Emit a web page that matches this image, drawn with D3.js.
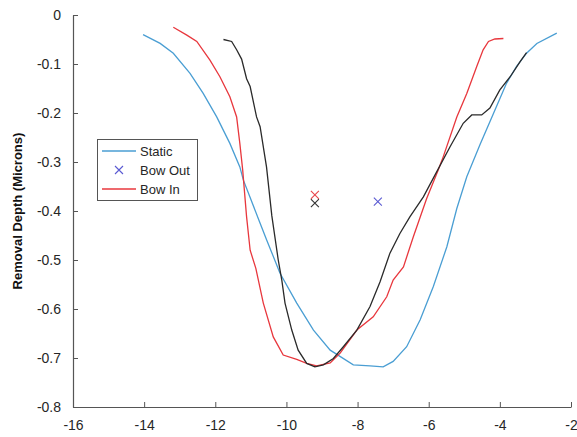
<!DOCTYPE html>
<html><head><meta charset="utf-8">
<script src="https://cdn.jsdelivr.net/npm/d3@7"></script>
<style>
body{margin:0;background:#fff;}
text{font-family:"Liberation Sans",Arial,Helvetica,sans-serif;}
</style></head>
<body><svg id="c" width="577" height="437"></svg>
<script>
const staticX=[-14.03,-13.55,-13.18,-12.71,-12.34,-11.96,-11.59,-11.31,-11.21,-10.74,-10.55,-10.18,-9.71,-9.24,-8.77,-8.12,-7.65,-7.28,-7.00,-6.62,-6.24,-5.87,-5.49,-5.21,-4.93,-4.56,-4.18,-3.81,-3.53,-3.25,-2.96,-2.40];
const staticY=[-0.040,-0.058,-0.078,-0.119,-0.160,-0.208,-0.262,-0.310,-0.337,-0.425,-0.460,-0.527,-0.588,-0.643,-0.684,-0.714,-0.716,-0.718,-0.707,-0.677,-0.622,-0.554,-0.473,-0.395,-0.330,-0.265,-0.201,-0.139,-0.105,-0.078,-0.058,-0.037];
const bowInX=[-13.18,-12.80,-12.52,-12.15,-11.87,-11.59,-11.40,-11.31,-11.23,-11.12,-11.02,-10.86,-10.65,-10.37,-10.09,-9.71,-9.43,-9.15,-8.77,-8.49,-8.02,-7.56,-7.18,-7.00,-6.71,-6.43,-6.06,-5.73,-5.59,-5.21,-4.93,-4.65,-4.47,-4.32,-4.14,-3.90];
const bowInY=[-0.025,-0.041,-0.054,-0.092,-0.126,-0.167,-0.208,-0.262,-0.316,-0.412,-0.480,-0.517,-0.588,-0.657,-0.694,-0.703,-0.711,-0.716,-0.710,-0.690,-0.643,-0.616,-0.575,-0.541,-0.514,-0.452,-0.375,-0.316,-0.289,-0.208,-0.160,-0.105,-0.071,-0.054,-0.049,-0.048];
const blackX=[-11.77,-11.54,-11.40,-11.26,-11.12,-11.02,-10.84,-10.74,-10.56,-10.41,-10.23,-10.13,-10.04,-9.85,-9.67,-9.43,-9.20,-8.96,-8.68,-8.40,-8.02,-7.65,-7.37,-7.09,-6.81,-6.53,-6.15,-5.87,-5.40,-5.03,-4.79,-4.51,-4.28,-4.00,-3.71,-3.43,-3.25];
const blackY=[-0.050,-0.054,-0.071,-0.090,-0.130,-0.146,-0.208,-0.228,-0.310,-0.410,-0.500,-0.541,-0.588,-0.643,-0.684,-0.711,-0.718,-0.714,-0.701,-0.677,-0.643,-0.595,-0.545,-0.486,-0.446,-0.412,-0.371,-0.333,-0.269,-0.221,-0.204,-0.204,-0.190,-0.153,-0.126,-0.095,-0.077];
const markerX=[-7.43,-9.20,-9.20];
const markerY=[-0.381,-0.367,-0.384];
const markerColors=["#5a5ad2","#e8474c","#333333"];
const xTicks=[-16,-14,-12,-10,-8,-6,-4,-2];
const yTicks=[0,-0.1,-0.2,-0.3,-0.4,-0.5,-0.6,-0.7,-0.8];
const legendLabels=["Static","Bow Out","Bow In"];

const svg=d3.select("#c");
const x=d3.scaleLinear().domain([-16,-2]).range([73,571]);
const y=d3.scaleLinear().domain([0,-0.8]).range([15,407]);
const axisCol="#555";
const txtCol="#262626";

const fmtY=d=>d===0?"0":d3.format(".1f")(d).replace("−","-");
const gx=svg.append("g").attr("transform","translate(0,407)")
  .call(d3.axisBottom(x).tickValues(xTicks).tickSizeInner(-5).tickSizeOuter(0).tickPadding(13).tickFormat(d=>String(d)));
const gy=svg.append("g").attr("transform","translate(73,0)")
  .call(d3.axisLeft(y).tickValues(yTicks).tickSizeInner(-5).tickSizeOuter(0).tickPadding(12).tickFormat(fmtY));
[gx,gy].forEach(g=>{
  g.select(".domain").attr("stroke",axisCol).attr("stroke-width",1.2);
  g.selectAll(".tick line").attr("stroke",axisCol);
  g.selectAll("text").attr("fill",txtCol).style("font-size","14px").style("font-family","'Liberation Sans',Arial,sans-serif");
});

svg.append("text").attr("transform","translate(22,211) rotate(-90)")
  .attr("text-anchor","middle").attr("font-weight","bold").attr("font-size","13px").attr("fill","#111")
  .text("Removal Depth (Microns)");

const line=d3.line().x(d=>x(d[0])).y(d=>y(d[1]));
const mk=(X,Y)=>X.map((v,i)=>[v,Y[i]]);
svg.append("path").datum(mk(staticX,staticY)).attr("d",line).attr("fill","none").attr("stroke","#4a9ed3").attr("stroke-width",1.3);
svg.append("path").datum(mk(bowInX,bowInY)).attr("d",line).attr("fill","none").attr("stroke","#e8373d").attr("stroke-width",1.3);
svg.append("path").datum(mk(blackX,blackY)).attr("d",line).attr("fill","none").attr("stroke","#2a2a2a").attr("stroke-width",1.3);

const cross=(g,cx,cy,s,col)=>{
  g.append("path").attr("d",`M${cx-s},${cy-s}L${cx+s},${cy+s}M${cx-s},${cy+s}L${cx+s},${cy-s}`)
   .attr("stroke",col).attr("stroke-width",1.1).attr("fill","none");
};
markerX.forEach((v,i)=>cross(svg,x(v),y(markerY[i]),4,markerColors[i]));

// legend
const lg=svg.append("g");
lg.append("rect").attr("x",97.5).attr("y",139.5).attr("width",100).attr("height",61)
  .attr("fill","#fff").attr("stroke","#555").attr("stroke-width",1);
const rows=[151,170,189];
const lcols=["#4a9ed3",null,"#e8373d"];
legendLabels.forEach((t,i)=>{
  if(lcols[i]) lg.append("line").attr("x1",102).attr("x2",136).attr("y1",rows[i]).attr("y2",rows[i]).attr("stroke",lcols[i]).attr("stroke-width",1.3);
  else cross(lg,119,rows[i],4,markerColors[0]);
  lg.append("text").attr("x",140).attr("y",rows[i]+4.5).attr("font-size","13px").attr("fill",txtCol).text(t);
});
</script></body></html>
